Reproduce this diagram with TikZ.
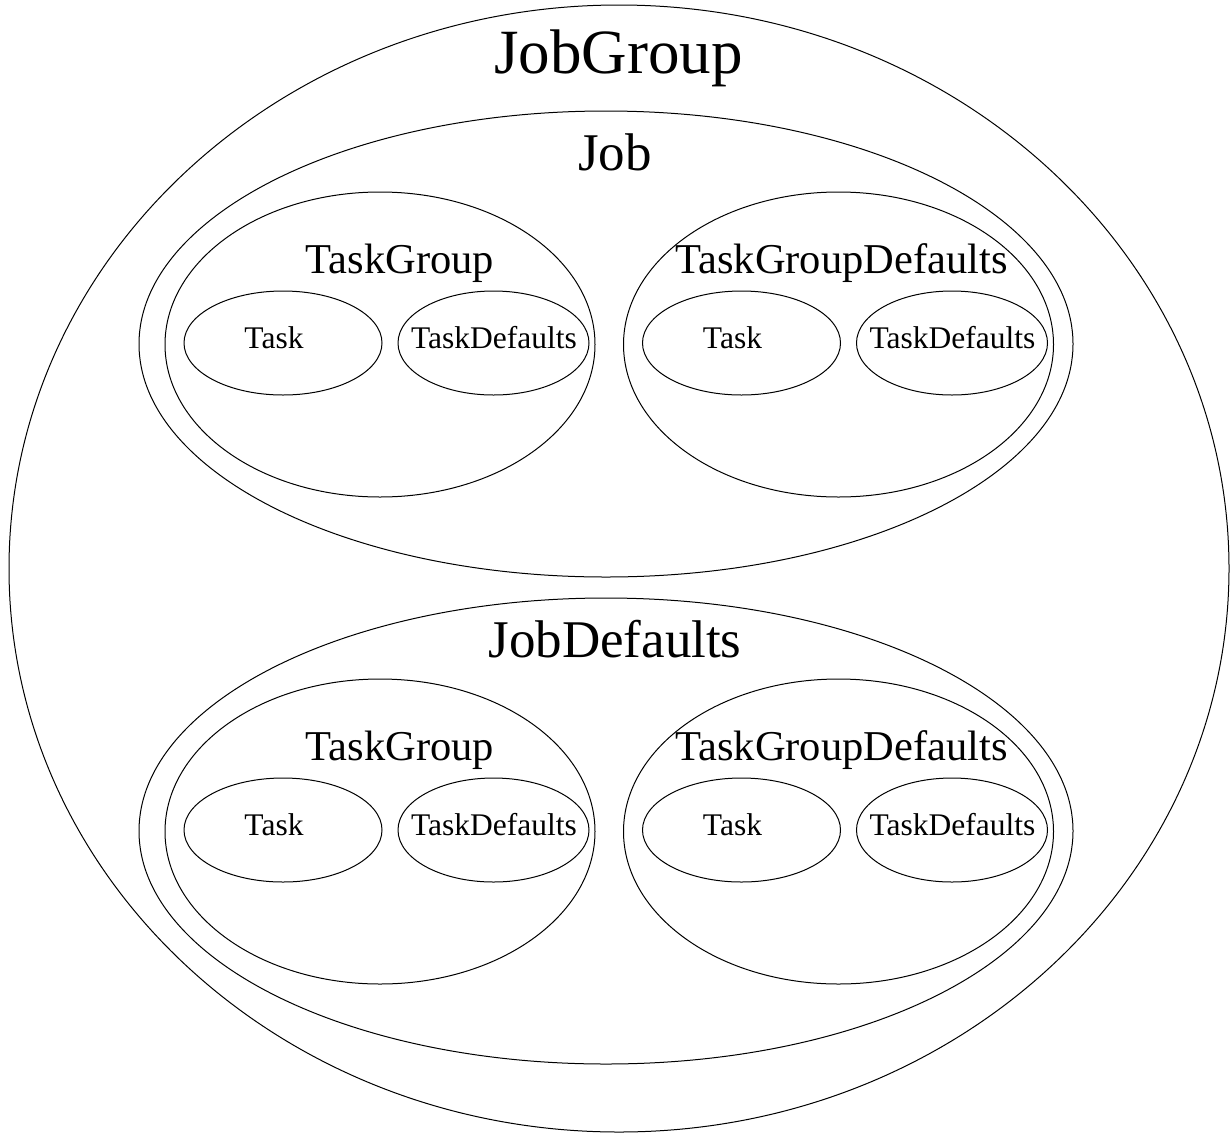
\documentclass[tikz,border=0pt]{standalone}
\usepackage{fontspec}
\setmainfont{Liberation Serif}
\usetikzlibrary{shapes.geometric}

\begin{document}
\begin{tikzpicture}[x=1pt, y=-1pt, line width=1pt,
  blob/.style={ellipse, draw=black, inner sep=0pt},
  lbl/.style={anchor=base, inner sep=0pt, font=\fontsize{#1}{#1}\selectfont}]

        \useasboundingbox (0,0) rectangle (1231,1133);

        % Outer ellipse
        \node[blob, minimum width=1220pt, minimum height=1127pt] (jobgroup) at (619,568.5) {};
        \node[lbl=63] (jobgrouplbl) at (618.5,73) {JobGroup};

        % Job and JobDefaults, the lower one shifted down by \dy
        \foreach \n/\txt/\dy in {job/Job/0, jobdef/JobDefaults/487} {
          \node[blob, minimum width=934pt, minimum height=466pt] (\n) at (606,344+\dy) {};
          \node[lbl=53] (\n-lbl) at (615,170+\dy) {\txt};

          % Two task groups inside each
          \foreach \g/\gtxt/\gx/\tx in {tg/TaskGroup/380/400, tgd/TaskGroupDefaults/838.5/841.5} {
            \node[blob, minimum width=430pt, minimum height=305pt] (\n\g) at (\gx,344.5+\dy) {};
            \node[lbl=42.5] (\n\g-lbl) at (\tx,273+\dy) {\gtxt};

            % Task and TaskDefaults
            \node[blob, minimum width=198pt, minimum height=104pt] (\n\g-task) at (\gx-97,343+\dy) {};
            \node[lbl=31.5] (\n\g-tasklbl) at (\gx-106,348+\dy) {Task};
            \node[blob, minimum width=191pt, minimum height=104pt] (\n\g-def) at (\gx+113.5,343+\dy) {};
            \node[lbl=31.5] (\n\g-deflbl) at (\gx+114,348+\dy) {TaskDefaults};
          }
        }

      \end{tikzpicture}
\end{document}
